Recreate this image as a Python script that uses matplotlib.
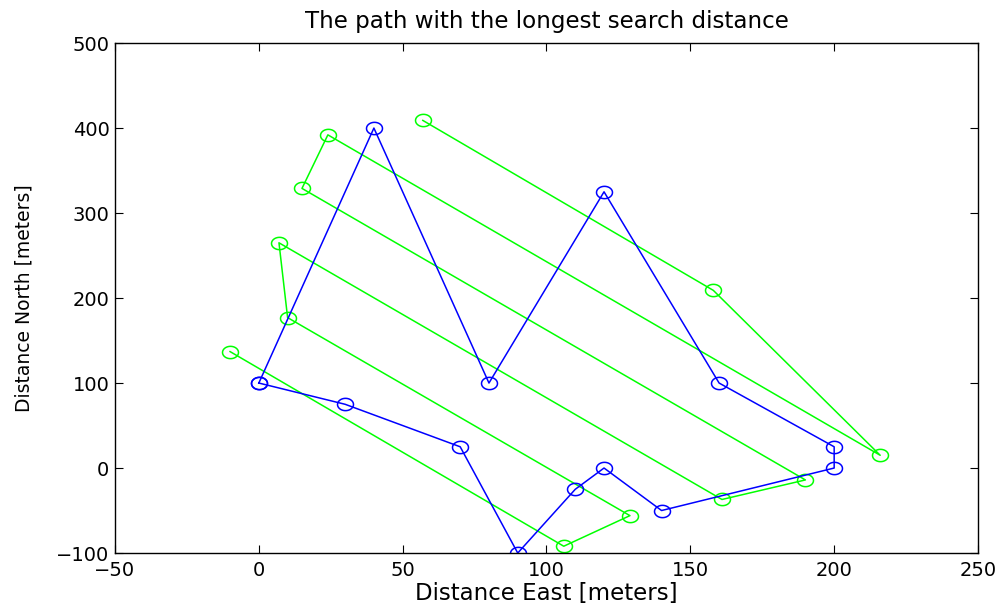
import matplotlib
matplotlib.use("Agg")
import matplotlib.pyplot as plt
import numpy as np
from matplotlib.path import Path

plt.rcParams['font.family'] = ['DejaVu Sans']

# Blue search route (closed loop)
blue_x = [0, 30, 70, 90, 110, 120, 140, 200, 200, 160, 120, 80, 40, 0]
blue_y = [100, 75, 25, -100, -25, 0, -50, 0, 25, 100, 325, 100, 400, 100]

# Green search route
green_x = [-10, 106, 129, 10, 7, 161, 190, 15, 24, 216, 158, 57]
green_y = [137, -92, -56, 177, 265, -37, -14, 329, 392, 15, 209, 409]

xticks = [-50, 0, 50, 100, 150, 200, 250]
yticks = [-100, 0, 100, 200, 300, 400, 500]

# slightly flattened open ring used as the waypoint marker
t = np.linspace(0, 2 * np.pi, 61)
ring = Path(np.column_stack([np.cos(t), 0.77 * np.sin(t)]), closed=True)

fig = plt.figure(figsize=(10.07, 6.10), dpi=100)
ax = fig.add_axes([0.1142, 0.0934, 0.857, 0.836])

ax.plot(green_x, green_y, '-', marker=ring, color='#00ff00', lw=1.1,
        markersize=11.5, markerfacecolor='none', markeredgewidth=1.1)
ax.plot(blue_x, blue_y, '-', marker=ring, color='#0000ff', lw=1.1,
        markersize=11.5, markerfacecolor='none', markeredgewidth=1.1)

ax.set_xlim(-50, 250)
ax.set_ylim(-100, 500)
ax.set_xticks(xticks)
ax.set_yticks(yticks)
ax.set_xticklabels(['\u221250', '0', '50', '100', '150', '200', '250'])
ax.set_yticklabels(['\u2212100', '0', '100', '200', '300', '400', '500'])
ax.tick_params(direction='in', top=True, right=True, length=6, width=0.8,
               labelsize=14)
ax.tick_params(axis='x', pad=6)
ax.tick_params(axis='y', pad=4)
for s in ax.spines.values():
    s.set_linewidth(1.0)

ax.set_title('The path with the longest search distance', fontsize=16.6, pad=11)
ax.set_xlabel('Distance East [meters]', fontsize=16.5, labelpad=1)
ax.set_ylabel('Distance North [meters]', fontsize=13.5)
ax.yaxis.set_label_coords(-0.095, 0.5)

fig.savefig('out.png', dpi=100)
